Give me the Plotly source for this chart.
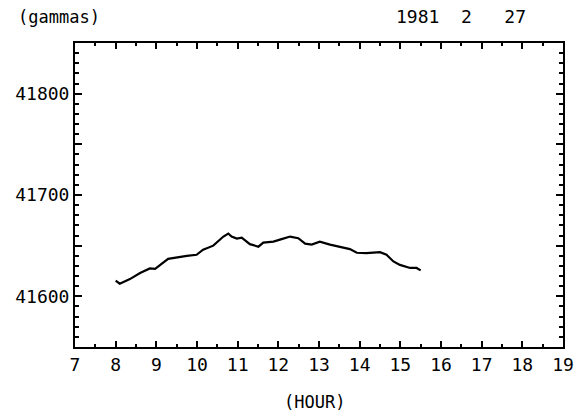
import plotly.graph_objects as go

# Time (hours) and field values (gammas)
hours = [8.0, 8.1, 8.35, 8.6, 8.84, 8.97, 9.29, 9.5, 9.75, 9.99, 10.15, 10.4, 10.57,
         10.65, 10.77, 10.85, 10.98, 11.1, 11.3, 11.51, 11.63, 11.88, 12.08, 12.29,
         12.49, 12.66, 12.82, 13.02, 13.27, 13.52, 13.76, 13.93, 14.17, 14.5, 14.66,
         14.83, 14.99, 15.24, 15.4, 15.5]
gammas = [41615.5, 41612.5, 41617, 41623, 41627.5, 41627, 41637, 41638.5, 41640, 41641,
          41646, 41650, 41656, 41659, 41662, 41659, 41657, 41658, 41651.5, 41649,
          41653, 41654, 41656.5, 41659, 41657.4, 41652, 41651, 41654, 41651, 41648.6,
          41646.6, 41643, 41642.7, 41643.6, 41641, 41634.4, 41631, 41628, 41628, 41625.6]

x_ticks = list(range(7, 20))
y_ticks = [41600, 41700, 41800]
y_range = [41550, 41850]
x_range = [7, 19]

FONT = "DejaVu Sans Mono"

fig = go.Figure()
fig.add_trace(go.Scatter(x=hours, y=gammas, mode="lines",
                         line=dict(color="black", width=2.2), showlegend=False))
# helper invisible trace for the mid (50-gamma) ticks axis
fig.add_trace(go.Scatter(x=[x_range[0]], y=[y_range[0]], yaxis="y2", mode="markers",
                         marker=dict(opacity=0), showlegend=False, hoverinfo="skip"))

fig.update_layout(
    width=588, height=419,
    margin=dict(l=75, r=25, t=43, b=72),
    paper_bgcolor="white", plot_bgcolor="white",
    font=dict(family=FONT, color="black"),
    xaxis=dict(range=x_range, tickvals=x_ticks, ticktext=[str(v) for v in x_ticks],
               ticks="inside", ticklen=6, tickwidth=2, tickcolor="black",
               showline=True, linecolor="black", linewidth=2, mirror="ticks",
               showgrid=False, zeroline=False,
               tickfont=dict(family=FONT, size=18, color="black"),
               ticklabelstandoff=0,
               minor=dict(dtick=0.5, ticks="inside", ticklen=3, tickwidth=2,
                          tickcolor="black", showgrid=False)),
    yaxis=dict(range=y_range, tickvals=y_ticks, ticktext=[str(v) for v in y_ticks],
               ticks="inside", ticklen=7, tickwidth=2, tickcolor="black",
               showline=True, linecolor="black", linewidth=2, mirror="ticks",
               showgrid=False, zeroline=False,
               tickfont=dict(family=FONT, size=18, color="black"),
               ticklabelstandoff=0,
               minor=dict(dtick=10, ticks="inside", ticklen=4, tickwidth=2,
                          tickcolor="black", showgrid=False)),
    yaxis2=dict(range=y_range, overlaying="y", side="left", dtick=50, tick0=41550,
                ticks="inside", ticklen=7, tickwidth=2, tickcolor="black",
                showticklabels=False, showgrid=False, zeroline=False,
                showline=False, mirror="ticks"),
    annotations=[
        dict(text="(gammas)", xref="paper", yref="paper", x=-0.12, y=1.085,
             xanchor="left", yanchor="middle", showarrow=False,
             font=dict(family=FONT, size=17, color="black")),
        dict(text="1981  2   27", xref="paper", yref="paper", x=0.654, y=1.088,
             xanchor="left", yanchor="middle", showarrow=False,
             font=dict(family=FONT, size=18, color="black")),
        dict(text="(HOUR)", xref="paper", yref="paper", x=0.49, y=-0.18,
             xanchor="center", yanchor="middle", showarrow=False,
             font=dict(family=FONT, size=17, color="black")),
    ],
)

fig.write_html("out.html")
